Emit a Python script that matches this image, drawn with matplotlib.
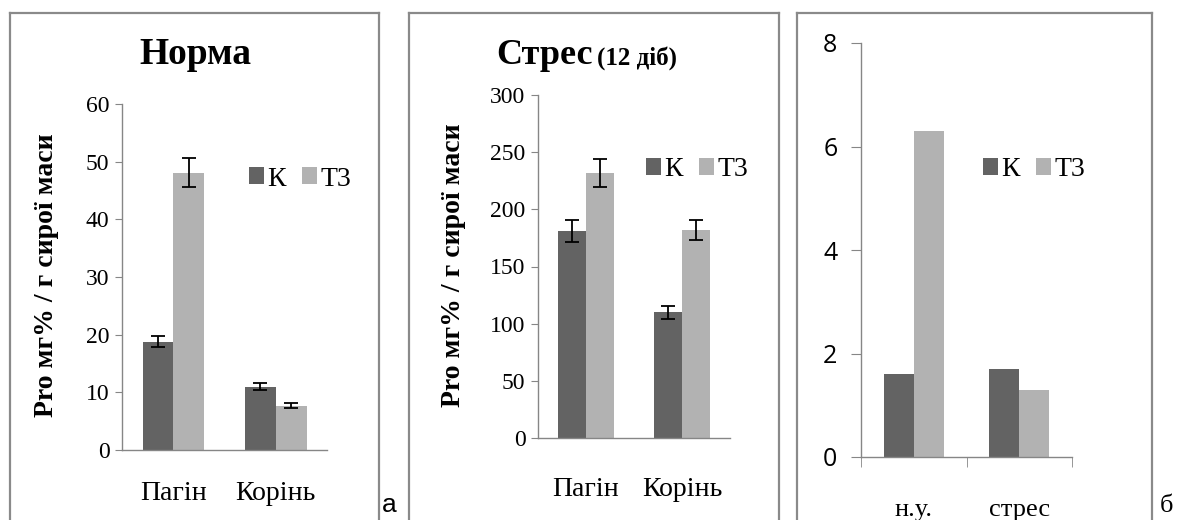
import numpy as np
import matplotlib
matplotlib.use('Agg')
import matplotlib.pyplot as plt
from matplotlib.lines import Line2D

# дані
series = ['К', 'Т3']
organs = ['Пагін', 'Корінь']
norm_k = [18.8, 11.0]
norm_k_err = [1.0, 0.6]
norm_t3 = [48.1, 7.7]
norm_t3_err = [2.5, 0.4]

stress_k = [181, 110]
stress_k_err = [9.5, 5.8]
stress_t3 = [232, 182]
stress_t3_err = [12.4, 9.0]

cond = ['н.у.', 'стрес']
b_k = [1.6, 1.7]
b_t3 = [6.3, 1.3]

dark = '#636363'
light = '#b2b2b2'
axis_col = '#868686'
serif = 'Liberation Serif'

W, H = 1180, 520
fig = plt.figure(figsize=(W / 100, H / 100), dpi=100)


def fx(x):
    return x / W


def fy(y):
    return 1 - y / H


def make_ax(x0, x1, ytop, y0):
    ax = fig.add_axes([fx(x0), fy(y0), fx(x1 - x0), (y0 - ytop) / H])
    for s in ['top', 'right']:
        ax.spines[s].set_visible(False)
    for s in ['left', 'bottom']:
        ax.spines[s].set_color(axis_col)
        ax.spines[s].set_linewidth(1.0)
    ax.set_xlim(-0.5, 1.5)
    return ax


# рамки навколо панелей
for left, right in [(10, 379), (409, 779), (797, 1152)]:
    kw = dict(color='#8a8a8a', lw=1.6, transform=fig.transFigure)
    fig.add_artist(Line2D([fx(left), fx(left)], [fy(13), fy(530)], **kw))
    fig.add_artist(Line2D([fx(right), fx(right)], [fy(13), fy(530)], **kw))
    fig.add_artist(Line2D([fx(left), fx(right)], [fy(13), fy(13)], **kw))

x = np.arange(2)
err_kw = dict(ecolor='black', elinewidth=1.3, capsize=5, capthick=1.3)

# а) Норма
ax1 = make_ax(122, 327, 104, 450)
w1 = 0.3
ax1.bar(x - w1 / 2, norm_k, w1, color=dark, yerr=norm_k_err, error_kw=err_kw, label=series[0])
ax1.bar(x + w1 / 2, norm_t3, w1, color=light, yerr=norm_t3_err, error_kw=err_kw, label=series[1])
ax1.set_ylim(0, 60)
ax1.set_yticks(range(0, 61, 10))
ax1.set_xticks(x, organs)

# а) Стрес
ax2 = make_ax(538, 730, 95, 438)
w2 = 0.287
ax2.bar(x - w2 / 2, stress_k, w2, color=dark, yerr=stress_k_err, error_kw=err_kw, label=series[0])
ax2.bar(x + w2 / 2, stress_t3, w2, color=light, yerr=stress_t3_err, error_kw=err_kw, label=series[1])
ax2.set_ylim(0, 300)
ax2.set_yticks(range(0, 301, 50))
ax2.set_xticks(x, organs)

for ax, xpad in [(ax1, 22), (ax2, 28)]:
    ax.tick_params(axis='y', direction='out', length=5, color=axis_col, labelsize=17, pad=4)
    ax.tick_params(axis='x', length=0, labelsize=20, pad=xpad)
    for t in ax.get_yticklabels() + ax.get_xticklabels():
        t.set_family(serif)

# б)
ax3 = make_ax(861, 1072, 43, 457)
w3 = 0.284
ax3.bar(x - w3 / 2, b_k, w3, color=dark, label=series[0])
ax3.bar(x + w3 / 2, b_t3, w3, color=light, label=series[1])
ax3.set_ylim(0, 8)
ax3.set_yticks(range(0, 9, 2))
ax3.set_xticks(x, cond)
ax3.set_xticks([-0.5, 0.5, 1.5], minor=True)
ax3.tick_params(axis='y', direction='out', length=7, color=axis_col, labelsize=18, pad=10)
ax3.tick_params(axis='x', which='major', length=0, labelsize=19, pad=30)
ax3.tick_params(axis='x', which='minor', direction='out', length=7, color=axis_col)
for t in ax3.get_yticklabels():
    t.set_family('Open Sans')
for t in ax3.get_xticklabels():
    t.set_family(serif)

# легенди
for ax, cx, cy in [(ax1, 300, 179), (ax2, 697, 170), (ax3, 1034, 170)]:
    ax.legend(loc='center', bbox_to_anchor=(fx(cx), fy(cy)), bbox_transform=fig.transFigure,
              ncol=2, frameon=False, handlelength=0.55, handleheight=0.55, handletextpad=0.1,
              columnspacing=0.6, borderpad=0, prop={'family': serif, 'size': 20})

# заголовки
fig.text(fx(195), fy(55), 'Норма', ha='center', va='center', family=serif,
         weight='bold', fontsize=27)
fig.text(fx(593), fy(55), r'Стрес', ha='right', va='center', family=serif,
         weight='bold', fontsize=26)
fig.text(fx(597), fy(58), '(12 діб)', ha='left', va='center', family=serif,
         weight='bold', fontsize=18)

ylab = 'Pro мг% / г сирої маси'
fig.text(fx(47), fy(275), ylab, rotation=90, ha='center', va='center', family=serif,
         weight='bold', fontsize=20)
fig.text(fx(453), fy(265), ylab, rotation=90, ha='center', va='center', family=serif,
         weight='bold', fontsize=20)

fig.text(fx(382), fy(512), 'а', ha='left', va='baseline', family='Liberation Sans', fontsize=19)
fig.text(fx(1160), fy(512), 'б', ha='left', va='baseline', family=serif, fontsize=19)

fig.savefig('out.png', dpi=100)
